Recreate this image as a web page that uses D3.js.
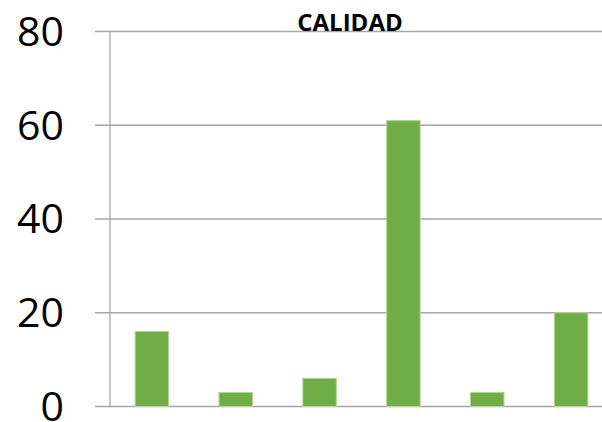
<!DOCTYPE html>
<html>
<head>
<meta charset="utf-8">
<script src="https://cdn.jsdelivr.net/npm/d3@7"></script>
<style>
  body { margin: 0; background: #fff; }
  svg { display: block; }
</style>
</head>
<body>
<div id="chart"></div>
<script>
// data
const categories = ["c1", "c2", "c3", "c4", "c5", "c6"];
const values = [16, 3, 6, 61, 3, 20];
const yTicks = [0, 20, 40, 60, 80];
const title = "CALIDAD";

const width = 602, height = 422;
const margin = { top: 31.5, right: -11, bottom: 15.5, left: 110 };

const svg = d3.select("#chart").append("svg")
    .attr("width", width)
    .attr("height", height);

const x = d3.scaleBand()
    .domain(categories)
    .range([margin.left, width - margin.right])
    .paddingInner(0.6)
    .paddingOuter(0.3);

const y = d3.scaleLinear()
    .domain([0, 80])
    .range([height - margin.bottom, margin.top]);

// gridlines
svg.append("g")
    .selectAll("line")
    .data(yTicks)
    .join("line")
    .attr("x1", margin.left - 15)
    .attr("x2", width)
    .attr("y1", d => y(d))
    .attr("y2", d => y(d))
    .attr("stroke", "#a6a6a6")
    .attr("stroke-width", 1.3);

// vertical axis line
svg.append("line")
    .attr("x1", margin.left)
    .attr("x2", margin.left)
    .attr("y1", y(80))
    .attr("y2", y(0))
    .attr("stroke", "#a6a6a6")
    .attr("stroke-width", 1.3);

// y labels
svg.append("g")
    .selectAll("text")
    .data(yTicks)
    .join("text")
    .attr("x", 64)
    .attr("y", d => y(d))
    .attr("dy", "0.35em")
    .attr("text-anchor", "end")
    .style("font-family", "'Open Sans', sans-serif")
    .style("font-size", "41px")
    .style("fill", "#000")
    .text(d => d);

// bars
svg.append("g")
    .selectAll("rect")
    .data(values)
    .join("rect")
    .attr("x", (d, i) => x(categories[i]))
    .attr("width", x.bandwidth())
    .attr("y", d => y(d))
    .attr("height", d => y(0) - y(d))
    .attr("fill", "#70ad47")
    .attr("stroke", "#b4d69b")
    .attr("stroke-width", 1);

// title
svg.append("text")
    .attr("x", 350)
    .attr("y", 31)
    .attr("text-anchor", "middle")
    .style("font-family", "'Open Sans', sans-serif")
    .style("font-weight", "bold")
    .style("font-size", "24px")
    .style("fill", "#000")
    .text(title);
</script>
</body>
</html>
